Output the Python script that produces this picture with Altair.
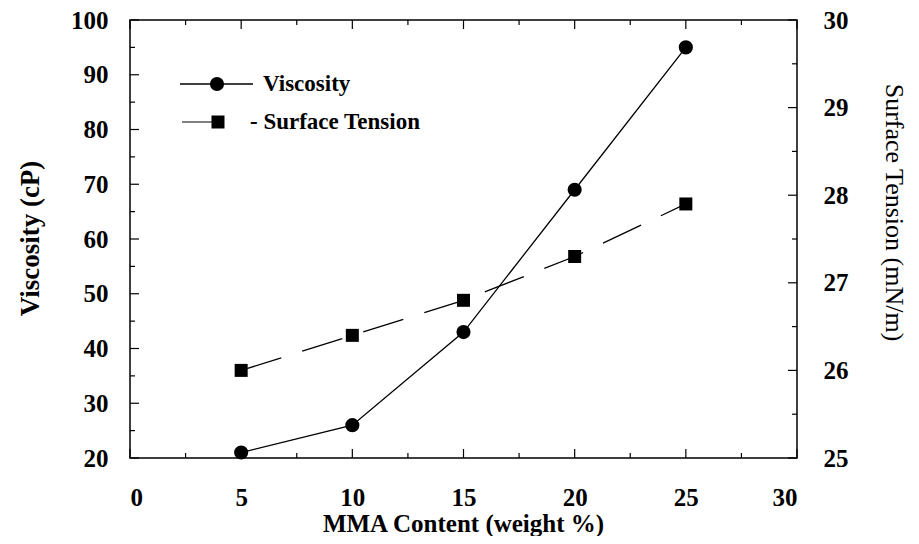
import altair as alt
import pandas as pd

# ---- data ----
mma = [5, 10, 15, 20, 25]
viscosity = [21, 26, 43, 69, 95]
surface_tension = [26.0, 26.4, 26.8, 27.3, 27.9]

x_major = [0, 5, 10, 15, 20, 25, 30]
x_minor = [2.5, 7.5, 12.5, 17.5, 22.5, 27.5]
visc_major = [20, 30, 40, 50, 60, 70, 80, 90, 100]
visc_minor = [25, 35, 45, 55, 65, 75, 85, 95]
st_major = [25, 26, 27, 28, 29, 30]
st_minor = [25.5, 26.5, 27.5, 28.5, 29.5]

W, H = 667, 438
FONT = "Liberation Serif"
MAJ, MIN = 9, 5

df = pd.DataFrame({"mma": mma, "viscosity": viscosity, "surface_tension": surface_tension})

lab = dict(labelFont=FONT, labelFontSize=25, labelFontWeight="bold", labelColor="black",
           grid=False, domain=False, ticks=False, tickSize=0)

x_enc = alt.X("mma:Q", scale=alt.Scale(domain=[0, 30], nice=False, zero=False),
              axis=alt.Axis(values=x_major, format="d", title="MMA Content (weight %)",
                            labelPadding=39, labelBaseline="middle",
                            titleFont=FONT, titleFontSize=25, titleFontWeight="bold", titleColor="black",
                            titleX=333, titleY=73, titleAlign="center", titleBaseline="alphabetic", **lab))

vy_axis = alt.Axis(orient="left", values=visc_major, format="d", title="Viscosity  (cP)",
                   labelPadding=22, titleFont=FONT, titleFontSize=27, titleFontWeight="bold",
                   titleColor="black", titleAngle=-90, titleX=-100, titleY=218,
                   titleAlign="center", titleBaseline="middle", **lab)
vy_scale = alt.Scale(domain=[20, 100], nice=False, zero=False)

sy_axis = alt.Axis(orient="right", values=st_major, format="d", title="Surface  Tension  (mN/m)",
                   labelPadding=26, titleFont=FONT, titleFontSize=26, titleFontWeight="normal",
                   titleColor="black", titleAngle=90, titleX=96, titleY=192,
                   titleAlign="center", titleBaseline="middle", **lab)
sy_scale = alt.Scale(domain=[25, 30], nice=False, zero=False)

base = alt.Chart(df)

# viscosity group (left axis)
visc_line = base.mark_line(color="black", strokeWidth=1.3).encode(
    x=x_enc, y=alt.Y("viscosity:Q", scale=vy_scale, axis=vy_axis))
visc_pts = base.mark_point(shape="circle", filled=True, size=200, color="black", opacity=1).encode(
    x=x_enc, y=alt.Y("viscosity:Q", scale=vy_scale, axis=vy_axis))
vt_major = alt.Chart(pd.DataFrame({"viscosity": visc_major})).mark_rule(color="black", strokeWidth=1.2).encode(
    y=alt.Y("viscosity:Q", scale=vy_scale, axis=vy_axis), x=alt.value(0), x2=alt.value(MAJ))
vt_minor = alt.Chart(pd.DataFrame({"viscosity": visc_minor})).mark_rule(color="black", strokeWidth=1.2).encode(
    y=alt.Y("viscosity:Q", scale=vy_scale, axis=vy_axis), x=alt.value(0), x2=alt.value(MIN))
left_group = alt.layer(visc_line, visc_pts, vt_major, vt_minor)

# surface tension group (right axis)
st_line = base.mark_line(color="black", strokeWidth=1.3, strokeDash=[42, 22]).encode(
    x=x_enc, y=alt.Y("surface_tension:Q", scale=sy_scale, axis=sy_axis))
st_pts = base.mark_point(shape="square", filled=True, size=169, color="black", opacity=1).encode(
    x=x_enc, y=alt.Y("surface_tension:Q", scale=sy_scale, axis=sy_axis))
st_tmaj = alt.Chart(pd.DataFrame({"surface_tension": st_major})).mark_rule(color="black", strokeWidth=1.2).encode(
    y=alt.Y("surface_tension:Q", scale=sy_scale, axis=sy_axis), x=alt.value(W), x2=alt.value(W - MAJ))
st_tmin = alt.Chart(pd.DataFrame({"surface_tension": st_minor})).mark_rule(color="black", strokeWidth=1.2).encode(
    y=alt.Y("surface_tension:Q", scale=sy_scale, axis=sy_axis), x=alt.value(W), x2=alt.value(W - MIN))
right_group = alt.layer(st_line, st_pts, st_tmaj, st_tmin)

# x ticks (bottom and top, inward)
def xticks(vals, length, top):
    c = alt.Chart(pd.DataFrame({"mma": vals})).mark_rule(color="black", strokeWidth=1.2)
    if top:
        return c.encode(x=x_enc, y=alt.value(0), y2=alt.value(length))
    return c.encode(x=x_enc, y=alt.value(H), y2=alt.value(H - length))

xt = [xticks(x_major, MAJ, False), xticks(x_minor, MIN, False),
      xticks(x_major, MAJ, True), xticks(x_minor, MIN, True)]

# legend (drawn in the upper left of the plot)
one = pd.DataFrame({"k": [0]})
leg = [
    alt.Chart(one).mark_rule(color="black", strokeWidth=1.3).encode(
        x=alt.value(50), x2=alt.value(123), y=alt.value(64)),
    alt.Chart(one).mark_point(shape="circle", filled=True, size=200, color="black", opacity=1).encode(
        x=alt.value(87), y=alt.value(64)),
    alt.Chart(one).mark_text(text="Viscosity", font=FONT, fontSize=23, fontWeight="bold",
                             align="left", baseline="middle", color="black").encode(
        x=alt.value(133), y=alt.value(64)),
    alt.Chart(one).mark_rule(color="black", strokeWidth=1.0).encode(
        x=alt.value(52), x2=alt.value(83), y=alt.value(102)),
    alt.Chart(one).mark_point(shape="square", filled=True, size=169, color="black", opacity=1).encode(
        x=alt.value(88), y=alt.value(102)),
    alt.Chart(one).mark_text(text="- Surface  Tension", font=FONT, fontSize=23, fontWeight="bold",
                             align="left", baseline="middle", color="black").encode(
        x=alt.value(120), y=alt.value(102)),
]

chart = alt.layer(left_group, right_group, *xt, *leg).resolve_scale(y="independent").properties(
    width=W, height=H,
    autosize=alt.AutoSizeParams(type="none"),
    padding={"left": 122, "top": 12, "right": 114, "bottom": 78},
    background="white",
).configure_view(stroke="black", strokeWidth=1.5)

chart.save("out.html", embed_options={"renderer": "svg", "actions": False})
